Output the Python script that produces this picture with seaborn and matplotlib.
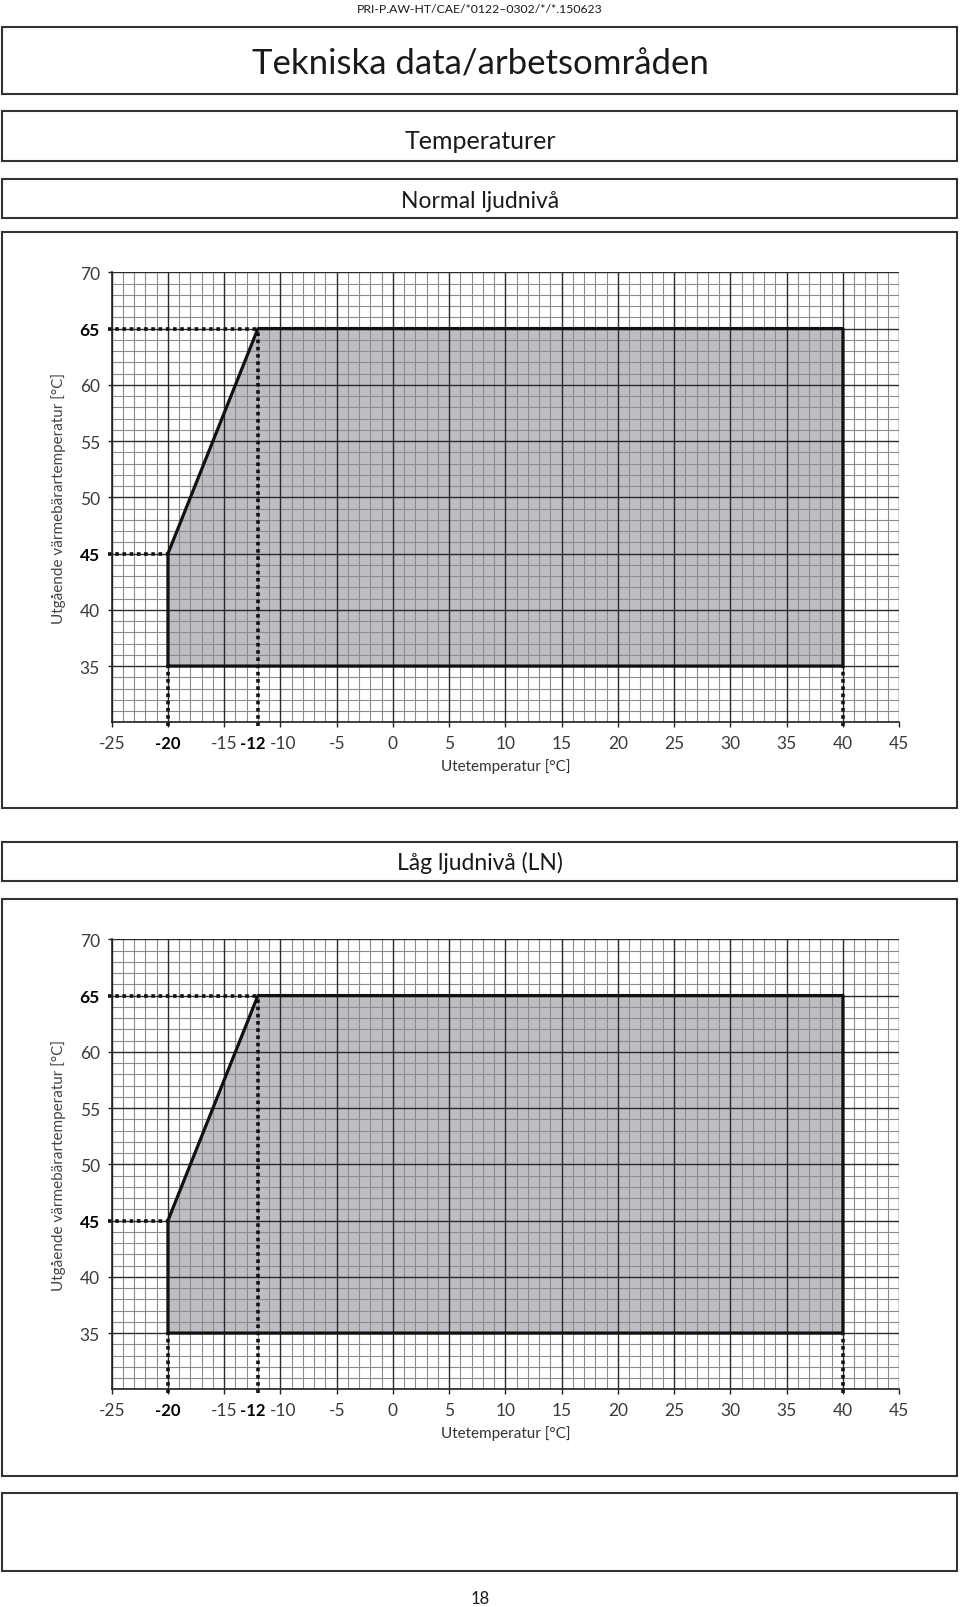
import numpy as np
import matplotlib
matplotlib.use("Agg")
import matplotlib.pyplot as plt
import matplotlib.transforms as mtransforms
import seaborn as sns
from matplotlib.patches import Rectangle

# ---------------- data ----------------
envelope_x = [-20, -20, -12, 40, 40, -20]
envelope_y = [35, 45, 65, 65, 35, 35]
marker_x = [-20, -12, 40]          # outdoor temps with dotted guide lines
marker_y = [45, 65]                # flow temps with dotted guide lines
marker_x_base = [35, 65, 35]       # where vertical guide meets envelope
marker_y_end = [-20, -12]          # where horizontal guide meets envelope
x_ticks = [-25, -20, -15, -12, -10, -5, 0, 5, 10, 15, 20, 25, 30, 35, 40, 45]
x_bold = [-20, -12]
y_ticks = [35, 40, 45, 50, 55, 60, 65, 70]
y_bold = [45, 65]
x_label = "Utetemperatur [°C]"
y_label = "Utgående värmebärartemperatur [°C]"
header_code = "PRI-P.AW-HT/CAE/*0122–0302/*/*.150623"
title = "Tekniska data/arbetsområden"
section = "Temperaturer"
panel_titles = ["Normal ljudnivå", "Låg ljudnivå (LN)"]
page_number = "18"

# ---------------- style ----------------
sns.set_theme(style="white")
plt.rcParams["font.family"] = ["Lato", "DejaVu Sans"]
plt.rcParams["font.weight"] = "normal"

W, H = 960, 1608
fig = plt.figure(figsize=(W / 100, H / 100), dpi=100)
fig.patch.set_facecolor("white")


def fy(py):
    return 1 - py / H


def box(y0, y1, x0=2, x1=957):
    fig.add_artist(Rectangle((x0 / W, fy(y1)), (x1 - x0) / W, (y1 - y0) / H,
                             transform=fig.transFigure, fill=False,
                             edgecolor="#333333", linewidth=1.5))


TXT = "#1a1a1a"
# header / page boxes
fig.text(480 / W, fy(13), header_code, ha="center", va="baseline",
         fontsize=8.8, color=TXT)
box(28, 95)
fig.text(480 / W, fy(74), title, ha="center", va="baseline",
         fontsize=25, color=TXT)
box(112, 162)
fig.text(480 / W, fy(149), section, ha="center", va="baseline",
         fontsize=18, color=TXT)

panel_boxes = [(180, 219), (843, 882)]
chart_boxes = [(233, 809), (900, 1477)]
axes_top = [273.3, 940.3]
for (b0, b1), name in zip(panel_boxes, panel_titles):
    box(b0, b1)
    fig.text(480 / W, fy(b1 - 11.5), name, ha="center", va="baseline",
             fontsize=16.5, color=TXT)
for c0, c1 in chart_boxes:
    box(c0, c1)
box(1494, 1572)
fig.text(480 / W, fy(1604), page_number, ha="center", va="baseline",
         fontsize=12, color=TXT)

# small horizontal nudges (px) so the neighbouring -12 / -10 labels don't collide
label_nudge = {-12: -5, -10: 3}

fill_color = "#bdbec3"
for top in axes_top:
    ax = fig.add_axes([111.7 / W, fy(top + 450), 787.5 / W, 450 / H])
    ax.set_xlim(-25, 45)
    ax.set_ylim(30, 70)
    ax.set_facecolor("white")

    # envelope fill (under the grid)
    ax.fill(envelope_x, envelope_y, color=fill_color, zorder=1, lw=0)

    # grid
    for v in range(-25, 46):
        major = v % 5 == 0
        ax.axvline(v, color="#2a2a2a" if major else "#8c8c8c",
                   lw=1.0 if major else 0.8, zorder=2 if not major else 3)
    for v in range(30, 71):
        major = v % 5 == 0
        ax.axhline(v, color="#2a2a2a" if major else "#8c8c8c",
                   lw=1.0 if major else 0.8, zorder=2 if not major else 3)

    # envelope outline
    sns.lineplot(x=envelope_x, y=envelope_y, sort=False, estimator=None,
                 color="#111111", lw=2.3, ax=ax, zorder=6)

    # dotted guide lines
    dot = dict(color="#111111", lw=2.6, linestyle=(0, (1.0, 1.0)),
               dash_capstyle="butt", clip_on=False, zorder=7)
    for xv, yb in zip(marker_x, marker_x_base):
        ax.plot([xv, xv], [29.7, yb], **dot)
    for yv, xe in zip(marker_y, marker_y_end):
        ax.plot([-25.35, xe], [yv, yv], **dot)

    # spines
    for s in ["top", "right"]:
        ax.spines[s].set_visible(False)
    for s in ["left", "bottom"]:
        ax.spines[s].set_visible(True)
        ax.spines[s].set_color("#222222")
        ax.spines[s].set_linewidth(1.2)
        ax.spines[s].set_zorder(5)

    # ticks
    ax.set_xticks(x_ticks)
    ax.set_xticklabels([str(v) for v in x_ticks])
    ax.set_yticks(y_ticks)
    ax.set_yticklabels([str(v) for v in y_ticks])
    ax.tick_params(axis="x", direction="out", length=3.6, width=1.0,
                   color="#222222", pad=5.5, labelsize=12.5,
                   labelcolor="#3a3a3a", bottom=True)
    ax.tick_params(axis="y", direction="out", length=3.0, width=1.0,
                   color="#222222", pad=5.5, labelsize=12.5,
                   labelcolor="#3a3a3a", left=True)
    for t, v in zip(ax.xaxis.get_major_ticks(), x_ticks):
        if v % 5 != 0:
            t.tick1line.set_visible(False)
        if v in label_nudge:
            off = mtransforms.ScaledTranslation(label_nudge[v] / 100, 0,
                                                fig.dpi_scale_trans)
            t.label1.set_transform(t.label1.get_transform() + off)
    for lab, v in zip(ax.get_xticklabels(), x_ticks):
        lab.set_fontweight("bold" if v in x_bold else "normal")
        if v in x_bold:
            lab.set_color("#000000")
            lab.set_fontsize(12)
    for lab, v in zip(ax.get_yticklabels(), y_ticks):
        lab.set_fontweight("bold" if v in y_bold else "normal")
        if v in y_bold:
            lab.set_color("#000000")

    ax.set_xlabel(x_label, fontsize=11, color="#333333")
    ax.xaxis.label.set_va("center")
    ax.xaxis.set_label_coords(0.5, -0.097)
    ax.set_ylabel(y_label, fontsize=11, color="#444444")
    ax.yaxis.label.set_va("center")
    ax.yaxis.set_label_coords(-0.068, 0.5)

fig.savefig("out.png", dpi=100, facecolor="white")
